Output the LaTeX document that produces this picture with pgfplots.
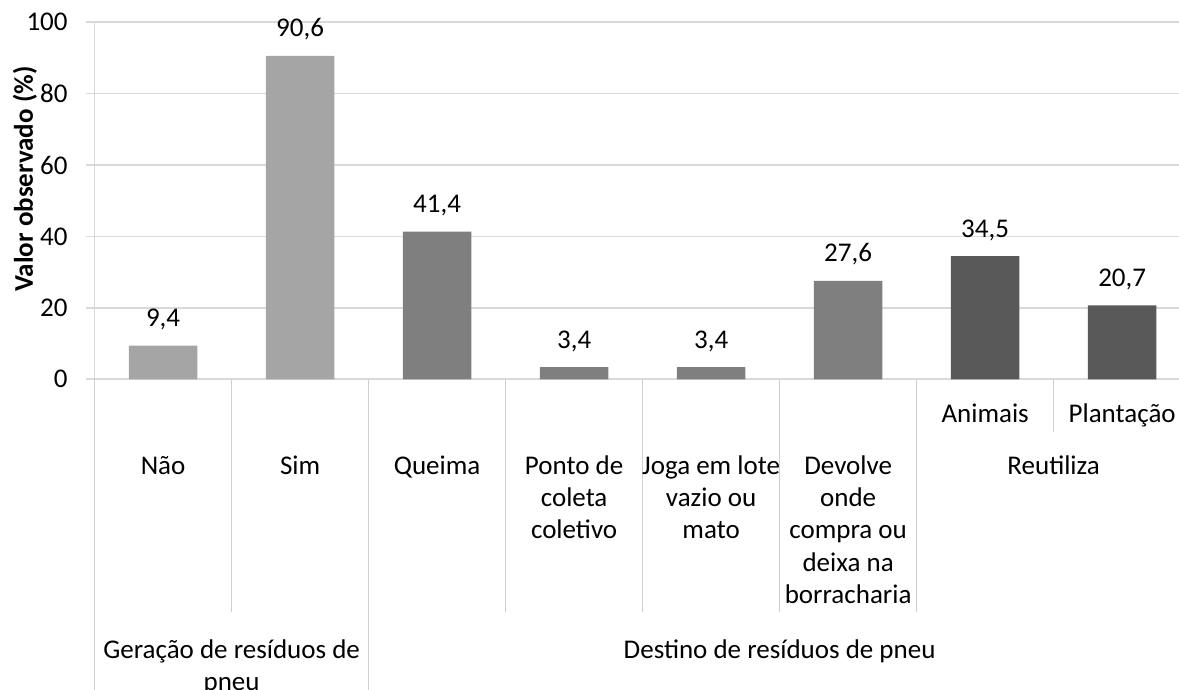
\documentclass[border=0pt]{standalone}
\usepackage{pgfplots}
\pgfplotsset{compat=1.18}
\usepackage{pgfplotstable}
\usepackage{fontspec}
\setmainfont{Carlito}
\definecolor{cA}{HTML}{A5A5A5}
\definecolor{cB}{HTML}{7F7F7F}
\definecolor{cC}{HTML}{595959}
\definecolor{gridc}{HTML}{D9D9D9}
\definecolor{catc}{HTML}{CFCFCF}
\newcommand\lab{\fontsize{13.5}{16.1}\selectfont}
\newcommand\fl{\rule{0pt}{12pt}}

\pgfplotstableread{
x y l
0 9.4 9,4
1 90.6 90,6
}\geracao
\pgfplotstableread{
x y l
2 41.4 41,4
3 3.4 3,4
4 3.4 3,4
5 27.6 27,6
}\destino
\pgfplotstableread{
x y l
6 34.5 34,5
7 20.7 20,7
}\reutiliza

\begin{document}
\begin{tikzpicture}
\begin{axis}[
  scale only axis, width=542.2pt, height=178.5pt,
  xmin=-0.5, xmax=7.415, ymin=0, ymax=100,
  axis x line*=bottom, axis y line*=left,
  axis line style={draw=gridc, line width=0.8pt},
  xtick=\empty,
  ytick={0,20,...,100},
  ymajorgrids, grid style={draw=gridc, line width=0.8pt},
  tick align=outside, major tick length=4.5pt,
  ytick style={draw=gridc, line width=0.8pt},
  yticklabel style={font=\lab, anchor=east, inner sep=0pt, xshift=-8.8pt},
  /pgf/number format/assume math mode=true,
  ylabel={Valor observado (\%)},
  ylabel style={font=\lab\bfseries, at={(axis description cs:0,0.561)}, anchor=center, yshift=34.8pt},
  point meta=explicit symbolic,
  nodes near coords,
  every node near coord/.append style={font=\lab, anchor=base, inner sep=0pt, yshift=9.5pt, text=black},
  clip=false,
]
\addplot[ybar, bar width=34.25pt, bar shift=0pt, fill=cA, draw=none] table[x=x, y=y, meta=l] {\geracao};
\addplot[ybar, bar width=34.25pt, bar shift=0pt, fill=cB, draw=none] table[x=x, y=y, meta=l] {\destino};
\addplot[ybar, bar width=34.25pt, bar shift=0pt, fill=cC, draw=none] table[x=x, y=y, meta=l] {\reutiliza};

% category axis separators
\draw[catc, line width=0.8pt] (axis cs:-0.5,0) -- ++(0pt,-155.35pt);
\draw[catc, line width=0.8pt] (axis cs:1.5,0) -- ++(0pt,-155.35pt);
\draw[catc, line width=0.8pt] (axis cs:0.5,0) -- ++(0pt,-116.35pt);
\draw[catc, line width=0.8pt] (axis cs:2.5,0) -- ++(0pt,-116.35pt);
\draw[catc, line width=0.8pt] (axis cs:3.5,0) -- ++(0pt,-116.35pt);
\draw[catc, line width=0.8pt] (axis cs:4.5,0) -- ++(0pt,-116.35pt);
\draw[catc, line width=0.8pt] (axis cs:5.5,0) -- ++(0pt,-116.35pt);
\draw[catc, line width=0.8pt] (axis cs:6.5,0) -- ++(0pt,-26.2pt);

% leaf row
\node[anchor=north, inner sep=0pt, align=center, font=\lab] at ([yshift=-9.2pt]axis cs:6,0) {\fl Animais};
\node[anchor=north, inner sep=0pt, align=center, font=\lab] at ([yshift=-9.2pt]axis cs:7,0) {\fl Plantação};
% middle row
\node[anchor=north, inner sep=0pt, align=center, font=\lab] at ([yshift=-35.35pt]axis cs:0,0) {\fl Não};
\node[anchor=north, inner sep=0pt, align=center, font=\lab] at ([yshift=-35.35pt]axis cs:1,0) {\fl Sim};
\node[anchor=north, inner sep=0pt, align=center, font=\lab] at ([yshift=-35.35pt]axis cs:2,0) {\fl Queima};
\node[anchor=north, inner sep=0pt, align=center, font=\lab] at ([yshift=-35.35pt]axis cs:3,0) {\fl Ponto de\\coleta\\coletivo};
\node[anchor=north, inner sep=0pt, align=center, font=\lab] at ([yshift=-35.35pt]axis cs:4,0) {\fl Joga em lote\\vazio ou\\mato};
\node[anchor=north, inner sep=0pt, align=center, font=\lab] at ([yshift=-35.35pt]axis cs:5,0) {\fl Devolve\\onde\\compra ou\\deixa na\\borracharia};
\node[anchor=north, inner sep=0pt, align=center, font=\lab] at ([yshift=-35.35pt]axis cs:6.5,0) {\fl Reutiliza};
% bottom row
\node[anchor=north, inner sep=0pt, align=center, font=\lab] at ([yshift=-127.5pt]axis cs:0.5,0) {\fl Geração de resíduos de\\pneu};
\node[anchor=north, inner sep=0pt, align=center, font=\lab] at ([yshift=-127.5pt]axis cs:4.5,0) {\fl Destino de resíduos de pneu};

\coordinate (O) at (rel axis cs:0,0);
\end{axis}
\pgfresetboundingbox
\path[use as bounding box] ([shift={(-47.3pt,-155.35pt)}]O) rectangle ([shift={(542.2pt,189.65pt)}]O);
\end{tikzpicture}
\end{document}
